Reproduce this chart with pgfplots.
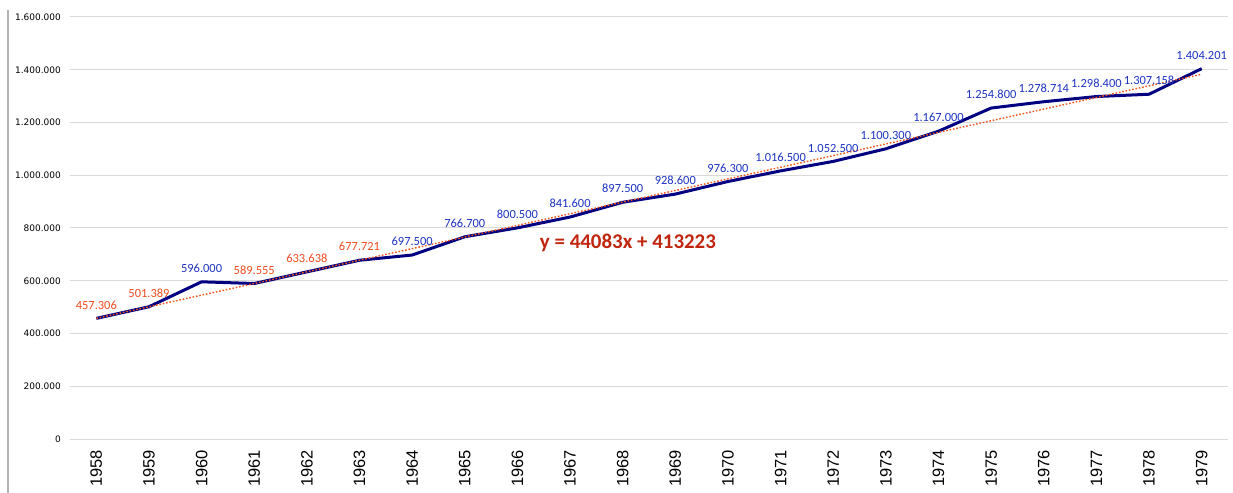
\documentclass[border=0pt]{standalone}
\usepackage{fontspec}
\setmainfont{Carlito}
\newfontfamily\dejavu{DejaVu Sans}
\newfontfamily\libsans{Liberation Sans}
\usepackage{pgfplots}
\pgfplotsset{compat=1.18}
\definecolor{navyline}{HTML}{000080}
\definecolor{trendred}{HTML}{F2541B}
\definecolor{lblblue}{HTML}{1C33C2}
\definecolor{lblred}{HTML}{F04B1E}
\definecolor{eqred}{HTML}{C0260F}
\definecolor{gridgray}{HTML}{D9D9D9}
\begin{document}
\begin{tikzpicture}
\begin{axis}[
  scale only axis,
  width=1158bp, height=422bp,
  at={(70bp,54bp)}, anchor=south west,
  xmin=-0.5, xmax=21.5,
  ymin=0, ymax=1600000,
  axis line style={draw=none},
  tick style={draw=none},
  ymajorgrids, grid style={gridgray, line width=1bp},
  xtick={0,...,21},
  xticklabels={1958,1959,1960,1961,1962,1963,1964,1965,1966,1967,1968,1969,1970,1971,1972,1973,1974,1975,1976,1977,1978,1979},
  xticklabel style={font=\libsans\fontsize{16.5}{16.5}\selectfont, rotate=90, anchor=east, inner sep=0pt},
  xticklabel shift=11bp,
  ytick={0,200000,400000,600000,800000,1000000,1200000,1400000,1600000},
  yticklabels={0,200.000,400.000,600.000,800.000,1.000.000,1.200.000,1.400.000,1.600.000},
  scaled y ticks=false,
  yticklabel style={font=\dejavu\fontsize{9}{9}\selectfont, anchor=east, inner sep=0pt},
  yticklabel shift=9bp,
  clip=false,
]
% data line
\addplot[navyline, line width=3bp, line join=round] coordinates {
(0,457306) (1,501389) (2,596000) (3,589555) (4,633638) (5,677721) (6,697500)
(7,766700) (8,800500) (9,841600) (10,897500) (11,928600) (12,976300)
(13,1016500) (14,1052500) (15,1100300) (16,1167000) (17,1254800)
(18,1278714) (19,1298400) (20,1307158) (21,1404201)};
% linear trend line
\addplot[trendred, line width=1.4bp, dash pattern=on 1.6bp off 1.8bp] coordinates {
(0,457306) (21,1383049)};
% red labels
\addplot[draw=none, mark=none, point meta=explicit symbolic,
  nodes near coords={\pgfplotspointmeta},
  nodes near coords style={font=\fontsize{12.5}{12.5}\selectfont, text=lblred, anchor=south, inner sep=0pt, yshift=9bp}]
coordinates {
(0,457306)[457.306] (1,501389)[501.389] (3,589555)[589.555] (4,633638)[633.638] (5,677721)[677.721]};
% blue labels
\addplot[draw=none, mark=none, point meta=explicit symbolic,
  nodes near coords={\pgfplotspointmeta},
  nodes near coords style={font=\fontsize{12.5}{12.5}\selectfont, text=lblblue, anchor=south, inner sep=0pt, yshift=9bp}]
coordinates {
(2,596000)[596.000] (6,697500)[697.500] (7,766700)[766.700] (8,800500)[800.500]
(9,841600)[841.600] (10,897500)[897.500] (11,928600)[928.600] (12,976300)[976.300]
(13,1016500)[1.016.500] (14,1052500)[1.052.500] (15,1100300)[1.100.300]
(16,1167000)[1.167.000] (17,1254800)[1.254.800] (18,1278714)[1.278.714]
(19,1298400)[1.298.400] (20,1307158)[1.307.158] (21,1404201)[1.404.201]};
\node[font=\bfseries\fontsize{21}{21}\selectfont, text=eqred] at (axis cs:10.1,743000) {y = 44083x + 413223};
\end{axis}
\draw[color=gray!60, line width=1.5bp] (8bp,0) -- (8bp,483bp);
\pgfresetboundingbox
\useasboundingbox (0,0) rectangle (1233bp,493bp);
\end{tikzpicture}
\end{document}
